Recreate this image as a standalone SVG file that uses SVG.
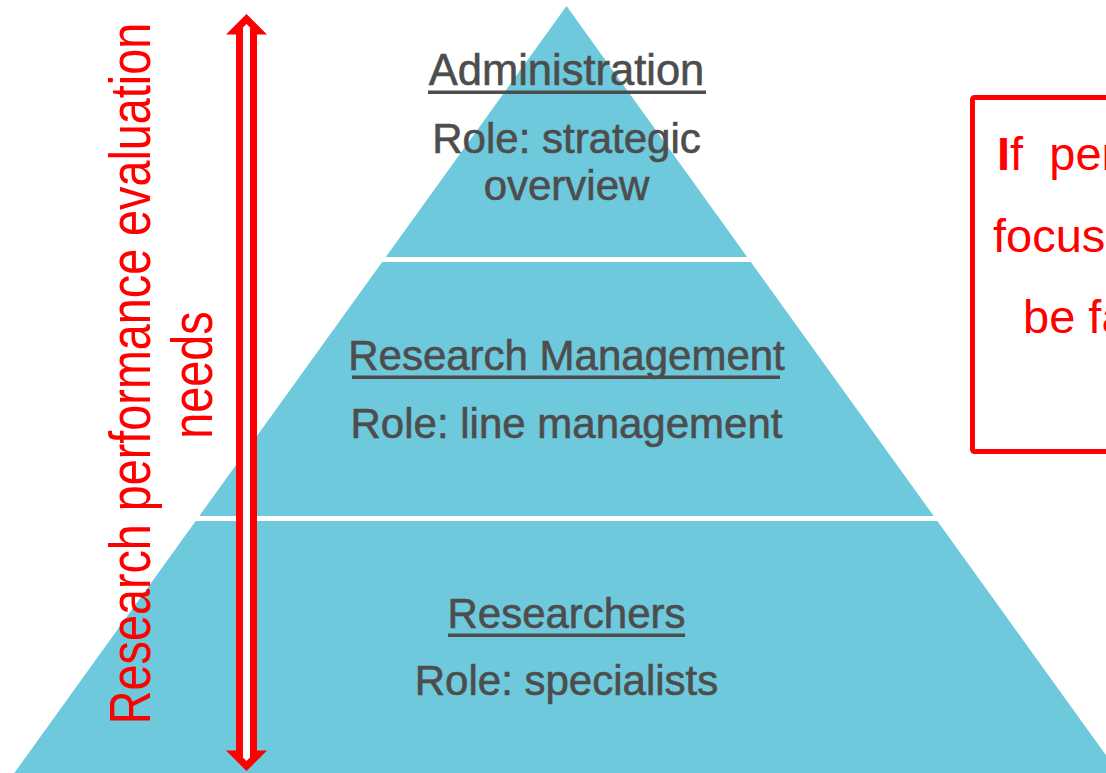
<svg xmlns="http://www.w3.org/2000/svg" width="1106" height="773" viewBox="0 0 1106 773">
  <style>
    .tier { fill: #6DC9DB; }
    .lbl { font-family: "Liberation Sans", Arial, sans-serif; font-size: 42px; fill: #4D4D4D; stroke: #4D4D4D; stroke-width: 0.6px; text-anchor: middle; }
    .ul { fill: #4D4D4D; }
    .red { font-family: "Liberation Sans", Arial, sans-serif; fill: #FF0000; }
  </style>
  <rect x="0" y="0" width="1106" height="773" fill="#FFFFFF"/>

  <g id="tier-administration">
    <polygon class="tier" points="566.5,6 385.8,257 747.2,257"/>
    <text class="lbl" x="566.5" y="85" style="font-size:43.5px">Administration</text>
    <rect class="ul" x="428" y="90.5" width="278" height="3.5"/>
    <text class="lbl" x="566.5" y="153">Role: strategic</text>
    <text class="lbl" x="566.5" y="200">overview</text>
  </g>

  <g id="tier-research-management">
    <polygon class="tier" points="382.2,262 750.8,262 933.7,516 199.3,516"/>
    <text class="lbl" x="566.5" y="370">Research Management</text>
    <rect class="ul" x="352" y="375.5" width="428" height="3.5"/>
    <text class="lbl" x="566.5" y="438">Role: line management</text>
  </g>

  <g id="tier-researchers">
    <polygon class="tier" points="195.7,521 937.3,521 1118.7,773 14.3,773"/>
    <text class="lbl" x="566.5" y="628">Researchers</text>
    <rect class="ul" x="448" y="633.5" width="237" height="3.5"/>
    <text class="lbl" x="566.5" y="695">Role: specialists</text>
  </g>

  <g id="connectors">
    <g id="needs-arrow">
      <polygon fill="#FF0000" points="246.5,14 267,34.5 257,34.5 257,750.5 267,750.5 246.5,771 226,750.5 236,750.5 236,34.5 226,34.5"/>
      <polygon fill="#FFFFFF" points="246.5,24 250,27.5 250,757.5 246.5,761 243,757.5 243,27.5"/>
    </g>
  </g>

  <g id="axis-label">
    <text class="red" transform="translate(150,373.5) rotate(-90) scale(0.82,1)" x="0" y="0" text-anchor="middle" font-size="57">Research performance evaluation</text>
    <text class="red" transform="translate(212,375) rotate(-90) scale(0.82,1)" x="0" y="0" text-anchor="middle" font-size="57">needs</text>
  </g>

  <g id="note-box">
    <rect x="972.5" y="97.5" width="160" height="354" rx="2" fill="none" stroke="#FF0000" stroke-width="5"/>
    <text class="red" x="997" y="170" font-size="47" xml:space="preserve"><tspan font-weight="bold">I</tspan>f  per</text>
    <text class="red" x="993" y="252" font-size="47">focus</text>
    <text class="red" x="1023" y="333" font-size="47">be fa</text>
  </g>
</svg>
